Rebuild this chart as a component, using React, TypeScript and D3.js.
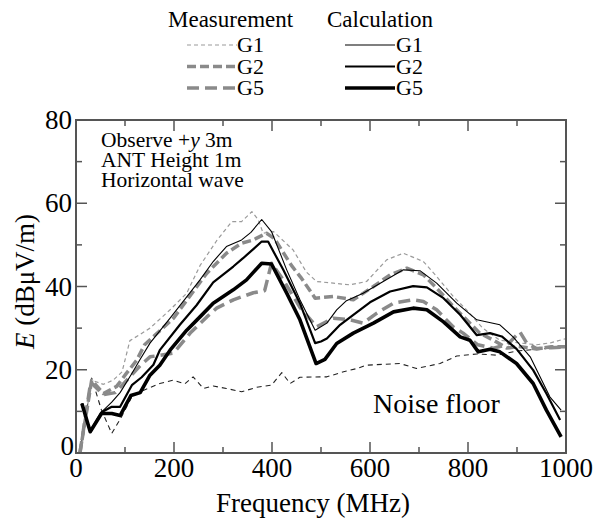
import React from "react";
import * as d3 from "d3";

type Pt = [number, number];

// Frequency (MHz), E (dBµV/m)
const calcG5: Pt[] = [[12,11.9],[29,5.1],[52,9.5],[73,9.5],[90,9.0],[112,13.8],[131,14.5],[151,18.7],[171,21.1],[192,24.7],[226,29.5],[253,32.7],[280,36],[321,39.2],[348,41.6],[379,45.6],[399,45.4],[430,38.4],[457,32],[490,21.5],[508,22.5],[532,26.3],[566,28.8],[607,31.2],[648,33.9],[688,34.8],[716,34.4],[750,31.5],[784,27.9],[804,27.1],[821,24.3],[845,24.9],[865,24.3],[899,21.5],[933,16.7],[960,10.3],[990,3.9]];
const calcG2: Pt[] = [[12,11.9],[29,5.1],[52,9.8],[73,11.1],[90,11.1],[114,16.3],[134,18.2],[158,21.2],[171,24.7],[212,30.8],[246,35.5],[280,41],[321,44.8],[341,46.8],[379,50.8],[392,50.8],[423,44],[457,36],[488,26.4],[500,26.8],[512,27.5],[539,30.8],[566,33.2],[600,36.2],[641,38.8],[688,40.1],[716,39.8],[750,37.2],[784,33.2],[818,28.3],[845,28.8],[869,28],[899,25],[933,19.9],[960,14.3],[988,7.9]];
const calcG1: Pt[] = [[12,11.9],[29,5.1],[52,9.8],[73,12.2],[90,14.5],[114,19.1],[131,22.5],[151,26.4],[192,32.4],[226,37.5],[253,41.6],[280,46],[307,49.6],[338,51.2],[357,53],[379,56.1],[399,53.2],[430,44],[457,36.8],[488,29.5],[512,31.2],[532,34.4],[552,36.6],[586,38.4],[627,41.2],[668,44],[702,43.8],[736,40.8],[777,36],[818,32],[865,30.8],[892,27.9],[927,23.1],[967,13.5],[990,10.3]];
const measG1: Pt[] = [[8,0],[32,17.5],[56,16.5],[76,17.5],[94,19.5],[110,27],[131,28.5],[151,30],[192,34.4],[226,38.4],[253,45],[287,51],[318,55.6],[338,55.6],[359,58],[372,56],[382,52.8],[403,53.2],[443,48.8],[470,43.5],[491,41.2],[525,40.8],[559,40.4],[593,41.2],[634,46.4],[668,48],[709,46],[736,42.4],[770,37.6],[797,34.4],[830,30],[865,27.1],[900,26.5],[940,26],[970,26.5],[1000,27.5]];
const measG2: Pt[] = [[8,0],[32,17.5],[56,14.3],[83,16],[102,19],[124,22.3],[140,26],[199,32.4],[267,43.2],[307,48],[338,50.4],[362,51.2],[389,52.8],[405,51.5],[440,45],[460,42],[488,37.2],[525,37.6],[566,36.8],[607,40],[641,42.8],[675,44.4],[709,42.8],[736,39.6],[770,35.2],[797,32],[824,28.8],[852,27.1],[879,25.2],[903,25.6],[940,25],[970,25.5],[1000,25.5]];
const measG5: Pt[] = [[8,0],[30,17],[56,14],[80,14.5],[100,17],[131,21],[151,23.1],[199,24],[233,28.8],[267,32.7],[287,34.8],[321,36.8],[362,38.5],[385,39],[399,45.6],[423,41.6],[457,35],[491,30.3],[525,32.4],[559,32],[586,31.2],[614,33.6],[648,36],[688,36.8],[709,36.4],[736,34.4],[770,30.3],[790,28.8],[820,26],[852,25.2],[880,26],[906,29.1],[920,26.4],[940,25.1],[970,25.3],[1000,25.5]];
const noiseFloor: Pt[] = [[8,0],[32,18],[52,10.3],[73,4.7],[93,8.7],[114,13.5],[131,14.7],[171,16.7],[199,17.5],[222,16.6],[239,18.3],[260,15.5],[280,16.1],[307,15.5],[338,14.7],[369,15.8],[399,16.3],[420,19.3],[437,16.7],[457,18.2],[512,18.3],[546,19.5],[573,20.3],[593,21.1],[661,21.5],[695,20.3],[743,21.5],[777,23.3],[818,23.8],[858,23.5],[900,24.5],[950,25],[1000,25.5]];

const xMajor = [0, 200, 400, 600, 800, 1000];
const xMinor = [100, 300, 500, 700, 900];
const yMajor = [0, 20, 40, 60, 80];
const yMinor = [10, 30, 50, 70];

const annotation = ["ANT Height 1m", "Horizontal wave"];

const FONT = '"Liberation Serif", Tinos, "Times New Roman", "DejaVu Serif", serif';

export default function App() {
  const W = 595, H = 519;
  const x = d3.scaleLinear().domain([0, 1000]).range([76, 566]);
  const y = d3.scaleLinear().domain([0, 80]).range([453, 120]);
  const line = d3.line<Pt>().x(d => x(d[0])).y(d => y(d[1]));

  const gray = "#8a8a8a";
  const axisColor = "#555";

  const styles = {
    measG1: { stroke: "#9a9a9a", width: 1.2, dash: "4,3" },
    measG2: { stroke: gray, width: 3.5, dash: "9,4" },
    measG5: { stroke: gray, width: 3.5, dash: "12,6" },
    calcG1: { stroke: "#000", width: 1.1, dash: undefined as string | undefined },
    calcG2: { stroke: "#000", width: 2.2, dash: undefined as string | undefined },
    calcG5: { stroke: "#000", width: 3.6, dash: undefined as string | undefined },
    noise: { stroke: "#222", width: 1.1, dash: "5,4" },
  };

  const series: { data: Pt[]; s: { stroke: string; width: number; dash?: string } }[] = [
    { data: noiseFloor, s: styles.noise },
    { data: measG1, s: styles.measG1 },
    { data: measG5, s: styles.measG5 },
    { data: measG2, s: styles.measG2 },
    { data: calcG1, s: styles.calcG1 },
    { data: calcG2, s: styles.calcG2 },
    { data: calcG5, s: styles.calcG5 },
  ];

  const legendRows = [
    { label: "G1", m: styles.measG1, c: styles.calcG1 },
    { label: "G2", m: styles.measG2, c: styles.calcG2 },
    { label: "G5", m: styles.measG5, c: styles.calcG5 },
  ];

  const ts = { fontFamily: FONT };

  return (
    <svg width={W} height={H} style={{ position: "absolute", left: 0, top: 0, background: "#fff", fontFamily: FONT }}>
      <defs>
        <clipPath id="plotClip">
          <rect x={76} y={120} width={490} height={333} />
        </clipPath>
      </defs>

      {/* Legend */}
      <text x={168} y={27} fontSize={23} style={ts}>Measurement</text>
      <text x={327} y={27} fontSize={23} style={ts}>Calculation</text>
      {legendRows.map((r, i) => {
        const by = 52 + i * 21.5;
        const ly = by - 7;
        return (
          <g key={r.label}>
            <line x1={187} x2={237} y1={ly} y2={ly} stroke={r.m.stroke} strokeWidth={r.m.width} strokeDasharray={r.m.dash} />
            <text x={237} y={by} fontSize={22} style={ts}>{r.label}</text>
            <line x1={345} x2={395} y1={ly} y2={ly} stroke={r.c.stroke} strokeWidth={r.c.width} />
            <text x={396} y={by} fontSize={22} style={ts}>{r.label}</text>
          </g>
        );
      })}

      {/* Data */}
      <g clipPath="url(#plotClip)">
        {series.map((sr, i) => (
          <path key={i} d={line(sr.data) || ""} fill="none" stroke={sr.s.stroke} strokeWidth={sr.s.width}
            strokeDasharray={sr.s.dash} strokeLinejoin="round" />
        ))}
      </g>

      {/* Frame */}
      <rect x={76} y={120} width={490} height={333} fill="none" stroke={axisColor} strokeWidth={2} />

      {/* Ticks */}
      {xMajor.map(v => (
        <g key={"xM" + v}>
          <line x1={x(v)} x2={x(v)} y1={453} y2={442} stroke={axisColor} strokeWidth={1.5} />
          <line x1={x(v)} x2={x(v)} y1={120} y2={131} stroke={axisColor} strokeWidth={1.5} />
          <text x={x(v)} y={477} fontSize={27} textAnchor="middle" style={ts}>{v}</text>
        </g>
      ))}
      {xMinor.map(v => (
        <g key={"xm" + v}>
          <line x1={x(v)} x2={x(v)} y1={453} y2={447} stroke={axisColor} strokeWidth={1.5} />
          <line x1={x(v)} x2={x(v)} y1={120} y2={126} stroke={axisColor} strokeWidth={1.5} />
        </g>
      ))}
      {yMajor.map(v => (
        <g key={"yM" + v}>
          <line x1={76} x2={87} y1={y(v)} y2={y(v)} stroke={axisColor} strokeWidth={1.5} />
          <line x1={566} x2={555} y1={y(v)} y2={y(v)} stroke={axisColor} strokeWidth={1.5} />
          <text x={v === 0 ? 74 : 72} y={v === 0 ? y(v) + 2 : y(v) + 9} fontSize={27} textAnchor="end" style={ts}>{v}</text>
        </g>
      ))}
      {yMinor.map(v => (
        <g key={"ym" + v}>
          <line x1={76} x2={82} y1={y(v)} y2={y(v)} stroke={axisColor} strokeWidth={1.5} />
          <line x1={566} x2={560} y1={y(v)} y2={y(v)} stroke={axisColor} strokeWidth={1.5} />
        </g>
      ))}

      {/* Axis titles */}
      <text x={313} y={512} fontSize={27} textAnchor="middle" style={ts}>Frequency (MHz)</text>
      <text transform="translate(34,281.5) rotate(-90)" fontSize={27} textAnchor="middle" style={ts}>
        <tspan fontStyle="italic">E</tspan> (dBμV/m)
      </text>

      {/* Annotations */}
      <text x={101} y={146.7} fontSize={21.5} style={ts}>
        Observe +<tspan fontStyle="italic">y</tspan> 3m
      </text>
      {annotation.map((t, i) => (
        <text key={t} x={101} y={166.7 + i * 20.3} fontSize={21.5} style={ts}>{t}</text>
      ))}
      <text x={373} y={413} fontSize={28} style={ts}>Noise floor</text>
    </svg>
  );
}
